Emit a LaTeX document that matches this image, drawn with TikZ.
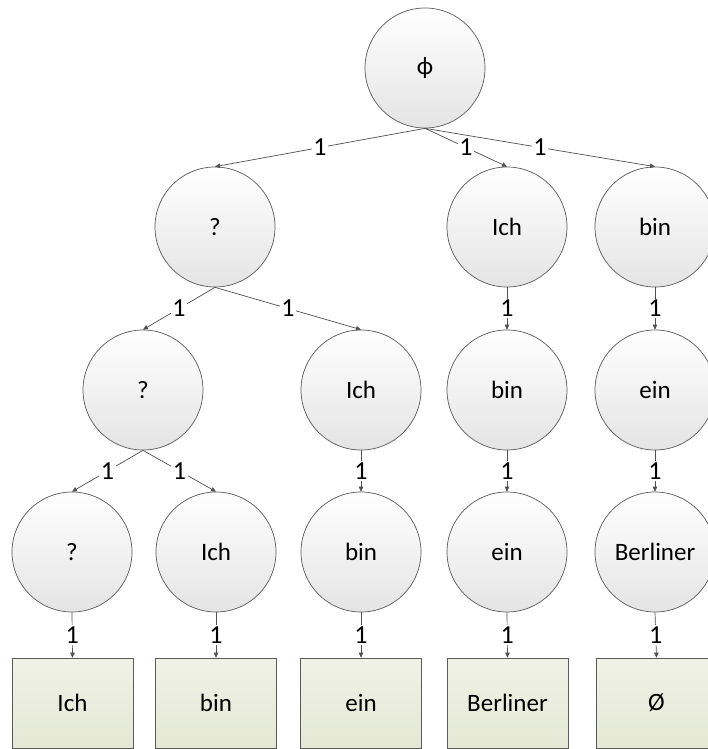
\documentclass[tikz,border=0pt]{standalone}
\usepackage{fontspec}
\setmainfont{Carlito}
\usetikzlibrary{arrows.meta}
\definecolor{edgegray}{RGB}{80,80,80}
\definecolor{rimgray}{RGB}{90,90,90}
\definecolor{circbot}{RGB}{228,228,228}
\definecolor{leaftop}{RGB}{240,242,230}
\definecolor{leafbot}{RGB}{228,232,212}
\begin{document}
\begin{tikzpicture}[x=1pt,y=-1pt,
  state/.style={circle, draw=rimgray, line width=0.7pt, minimum size=120pt,
    inner sep=0pt, top color=white, bottom color=circbot,
    font=\fontsize{25}{28}\selectfont},
  leaf/.style={rectangle, draw=rimgray, line width=0.7pt, minimum width=121pt,
    minimum height=90pt, inner sep=0pt, top color=leaftop, bottom color=leafbot,
    font=\fontsize{25}{28}\selectfont},
  link/.style={draw=edgegray, line width=0.7pt,
    -{Triangle[length=5pt,width=4.5pt]}},
  wt/.style={fill=white, inner sep=1.5pt, font=\fontsize{26}{28}\selectfont}
]
\useasboundingbox (0,0) rectangle (707,749);

% level 0
\node[state] (root) at (425,68) {ϕ};
% level 1
\node[state] (q1)   at (215,227) {?};
\node[state] (ich1) at (507,227) {Ich};
\node[state] (bin1) at (655,227) {bin};
% level 2
\node[state] (q2)   at (143,390) {?};
\node[state] (ich2) at (361,390) {Ich};
\node[state] (bin2) at (507,390) {bin};
\node[state] (ein2) at (655,390) {ein};
% level 3
\node[state] (q3)   at (72,552)  {?};
\node[state] (ich3) at (216,552) {Ich};
\node[state] (bin3) at (361,552) {bin};
\node[state] (ein3) at (507,552) {ein};
\node[state] (ber3) at (655,552) {Berliner};
% leaves
\node[leaf] (lich) at (72.5,703)  {Ich};
\node[leaf] (lbin) at (216,703)   {bin};
\node[leaf] (lein) at (361,703)   {ein};
\node[leaf] (lber) at (507.5,703) {Berliner};
\node[leaf] (lnul) at (656.5,703) {Ø};

% weighted edges
\foreach \a/\b in {root/q1, root/ich1, root/bin1,
                   q1/q2, q1/ich2, ich1/bin2, bin1/ein2,
                   q2/q3, q2/ich3, ich2/bin3, bin2/ein3, ein2/ber3,
                   q3/lich, ich3/lbin, bin3/lein, ein3/lber, ber3/lnul}
  \draw[link] (\a.south) -- node[wt] {1} (\b.north);
\end{tikzpicture}
\end{document}
